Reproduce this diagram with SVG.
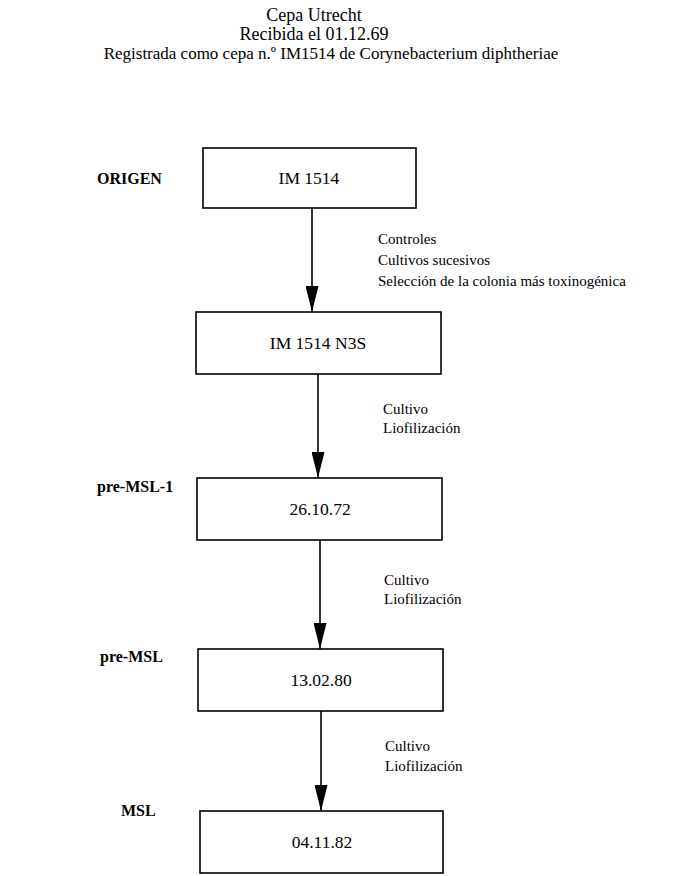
<svg xmlns="http://www.w3.org/2000/svg" width="676" height="876" viewBox="0 0 676 876">
<defs>
<style>
.t{font-family:"Liberation Serif","Times New Roman","DejaVu Serif",serif;fill:#000}
.title{font-size:18px;text-anchor:middle}
.stage{font-size:16px;font-weight:bold}
.box rect{fill:#fff;stroke:#000;stroke-width:1.6}
.box text{font-size:17.5px;text-anchor:middle}
.lbl{font-size:15px}
.conn line{stroke:#000;stroke-width:1.6;fill:none}
</style>
<marker id="ah" viewBox="0 0 26 13" markerWidth="26" markerHeight="13" refX="26" refY="6.5" orient="auto" markerUnits="userSpaceOnUse">
<path d="M0,0 L26,6.5 L0,13 z" fill="#000"/>
</marker>
</defs>
<rect width="676" height="876" fill="#fff"/>
<g id="title" class="t title">
<text x="314" y="21">Cepa Utrecht</text>
<text x="314" y="40">Recibida el 01.12.69</text>
<text x="331" y="59" style="font-size:17px">Registrada como cepa n.º IM1514 de Corynebacterium diphtheriae</text>
</g>
<g id="stages" class="t stage">
<text x="97" y="184">ORIGEN</text>
<text x="97" y="492">pre-MSL-1</text>
<text x="100" y="662">pre-MSL</text>
<text x="121" y="816">MSL</text>
</g>
<g id="n1" class="box t"><rect x="203" y="148" width="213" height="60"/><text x="309" y="184">IM 1514</text></g>
<g id="n2" class="box t"><rect x="196" y="312" width="245" height="62"/><text x="318" y="349">IM 1514 N3S</text></g>
<g id="n3" class="box t"><rect x="197" y="478" width="245" height="62"/><text x="320" y="515">26.10.72</text></g>
<g id="n4" class="box t"><rect x="198" y="649" width="245" height="62"/><text x="321" y="686">13.02.80</text></g>
<g id="n5" class="box t"><rect x="200" y="811" width="243" height="62"/><text x="322" y="848">04.11.82</text></g>
<g id="connectors" class="conn">
<line x1="312" y1="208" x2="312" y2="312" marker-end="url(#ah)"/>
<line x1="318" y1="374" x2="318" y2="478" marker-end="url(#ah)"/>
<line x1="320" y1="540" x2="320" y2="649" marker-end="url(#ah)"/>
<line x1="321" y1="711" x2="321" y2="811" marker-end="url(#ah)"/>
</g>
<g id="labels" class="t lbl">
<text x="378" y="244">Controles</text>
<text x="378" y="265">Cultivos sucesivos</text>
<text x="378" y="286">Selección de la colonia más toxinogénica</text>
<text x="383" y="414">Cultivo</text>
<text x="383" y="433">Liofilización</text>
<text x="384" y="585">Cultivo</text>
<text x="384" y="604">Liofilización</text>
<text x="385" y="751">Cultivo</text>
<text x="385" y="771">Liofilización</text>
</g>
</svg>
